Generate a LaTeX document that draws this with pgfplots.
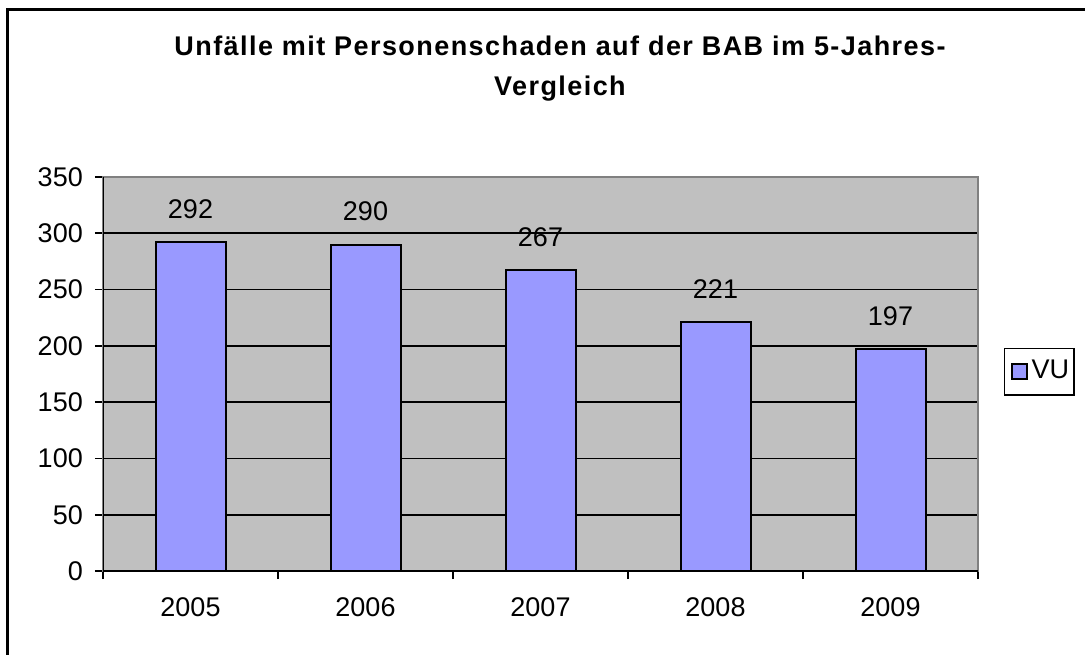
\documentclass[border=0pt]{standalone}
\usepackage{fontspec}
\setmainfont{Liberation Sans}
\newfontfamily\titlefont[LetterSpace=5.3]{Liberation Sans}
\usepackage{pgfplots}
\pgfplotsset{compat=1.18}
\definecolor{barblue}{HTML}{9999FF}
\definecolor{plotgray}{HTML}{C0C0C0}
\definecolor{framegray}{HTML}{808080}
\newcommand{\bigfont}{\fontsize{27}{32}\selectfont}
\begin{document}
\bigfont
\begin{tikzpicture}[x=1pt,y=1pt]
\useasboundingbox (0,0) rectangle (1085,654);
\begin{axis}[
  at={(103pt,83pt)}, anchor=south west,
  scale only axis, width=875pt, height=394pt,
  xmin=-0.5, xmax=4.5, ymin=0, ymax=350,
  /pgf/number format/assume math mode=true,
  axis background/.style={fill=plotgray},
  axis line style={framegray, line width=2pt},
  xtick={-0.5,0.5,1.5,2.5,3.5,4.5},
  xticklabels={2005,2006,2007,2008,2009},
  x tick label as interval,
  ytick={0,50,...,350},
  xtick pos=left, ytick pos=left,
  ymajorgrids, major grid style={black, line width=1.8pt},
  tick align=outside, major tick length=8pt,
  tick style={black, line width=1.8pt},
  tick label style={font=\bigfont},
  yticklabel style={anchor=east, inner sep=0pt, xshift=-12pt},
  xticklabel style={anchor=north, inner sep=0pt, yshift=-18pt},
  nodes near coords,
  every node near coord/.append style={font=\bigfont, anchor=center, yshift=33pt, inner sep=0pt},
  legend style={at={(1.0297,0.506)}, anchor=west, draw=black, line width=1.5pt, fill=white, font=\bigfont, inner xsep=3pt, inner ysep=10pt},
  legend image code/.code={\path[draw=none, fill=none] (0pt,-7.5pt) rectangle (22pt,7.5pt); \draw[fill=barblue, draw=black, line width=2pt] (4pt,-7.5pt) rectangle (19pt,7.5pt);},
]
\addplot[ybar, bar width=70pt, bar shift=0pt, fill=barblue, draw=black, line width=2pt]
  coordinates {(0,292) (1,290) (2,267) (3,221) (4,197)};
\addlegendentry{VU}
\draw[black, line width=2pt] (rel axis cs:0,1) -- (rel axis cs:0,0) -- (rel axis cs:1,0);
\end{axis}
\draw[line width=3pt] (7,-10) -- (7,644) -- (1100,644);
\node[font=\titlefont\bfseries\bigfont, anchor=base] at (560,598) {Unfälle mit Personenschaden auf der BAB im 5-Jahres-};
\node[font=\titlefont\bfseries\bigfont, anchor=base] at (560,558) {Vergleich};
\end{tikzpicture}
\end{document}
